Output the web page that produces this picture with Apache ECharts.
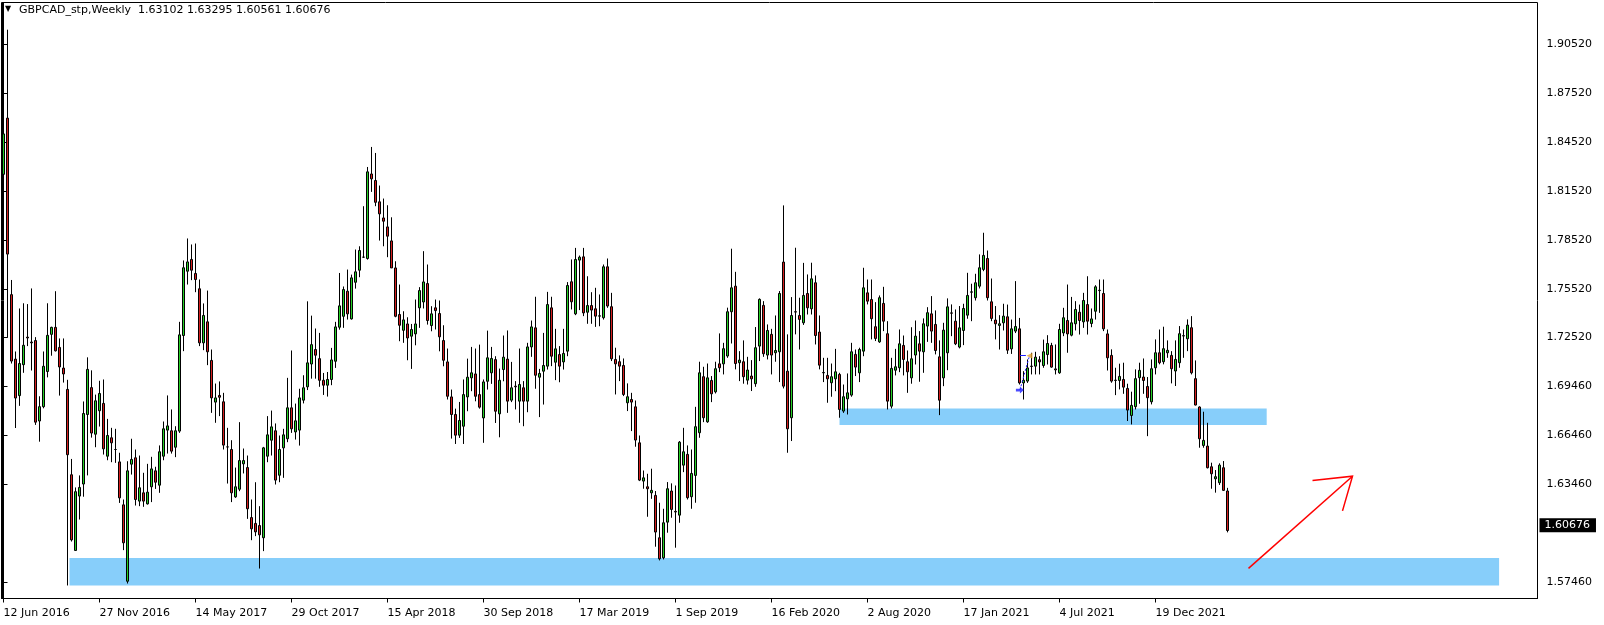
<!DOCTYPE html>
<html><head><meta charset="utf-8">
<script src="https://cdn.jsdelivr.net/npm/echarts@6/dist/echarts.min.js"></script>
<style>html,body{margin:0;padding:0;background:#fff}#c{width:1604px;height:625px}</style>
</head><body><div id="c"></div><script>
const HEADER = 'GBPCAD_stp,Weekly  1.63102 1.63295 1.60561 1.60676';
const FIRST_WEEK = '2016-06-12';
const OPEN = [1.8255,1.8600,1.7516,1.7120,1.6896,1.7086,1.7255,1.7225,1.7234,1.6740,1.6828,1.7044,1.7272,1.7315,1.7192,1.7065,1.6934,1.6410,1.5945,1.6279,1.6353,1.6780,1.6945,1.6659,1.6803,
1.6848,1.6524,1.6637,1.6565,1.6489,1.6225,1.5756,1.6475,1.6514,1.6248,1.6299,1.6231,1.6336,1.6434,1.6346,1.6524,1.6684,1.6680,1.6579,1.6678,1.7265,1.7660,1.7732,1.7646,1.7552,
1.7220,1.7349,1.7112,1.6856,1.6897,1.6858,1.6581,1.6565,1.6274,1.6321,1.6477,1.6454,1.6147,1.6111,1.6098,1.6023,1.6524,1.6622,1.6680,1.6407,1.6575,1.6631,1.6821,1.6673,1.6684,
1.6868,1.6950,1.7090,1.7179,1.7123,1.6990,1.6960,1.6995,1.7107,1.7316,1.7383,1.7537,1.7367,1.7592,1.7666,1.7746,1.7738,1.8257,1.8217,1.8086,1.7987,1.7932,1.7846,1.7680,1.7394,
1.7297,1.7336,1.7261,1.7275,1.7435,1.7471,1.7584,1.7326,1.7435,1.7400,1.7234,1.7103,1.6888,1.6780,1.6653,1.6708,1.6888,1.7005,1.7029,1.6902,1.6759,1.6984,1.7036,1.7117,1.6784,
1.7056,1.7120,1.6868,1.6954,1.6862,1.6944,1.6862,1.7195,1.7312,1.7009,1.7046,1.7077,1.7435,1.7101,1.7148,1.7103,1.7169,1.7595,1.7398,1.7728,1.7748,1.7408,1.7449,1.7429,1.7384,
1.7374,1.7687,1.7442,1.7118,1.7104,1.7081,1.6852,1.6872,1.6827,1.6606,1.6371,1.6336,1.6299,1.6283,1.6023,1.5900,1.6119,1.6310,1.6185,1.6162,1.6469,1.6535,1.6275,1.6406,1.6668,
1.7012,1.6735,1.6989,1.6919,1.7091,1.7091,1.7139,1.7411,1.7568,1.7098,1.7104,1.6991,1.7016,1.6969,1.7200,1.7450,1.7145,1.7272,1.7159,1.7165,1.7716,1.7046,1.6760,1.7411,1.7388,
1.7343,1.7523,1.7429,1.7589,1.7286,1.7036,1.7020,1.6975,1.6999,1.7026,1.6801,1.6876,1.6899,1.7149,1.7036,1.7169,1.7527,1.7486,1.7319,1.7226,1.7462,1.7276,1.6831,1.7052,1.7067,
1.7204,1.7104,1.7005,1.7145,1.7214,1.7165,1.7323,1.7398,1.7333,1.7134,1.7005,1.7159,1.7404,1.7353,1.7194,1.7296,1.7390,1.7531,1.7497,1.7568,1.7671,1.7738,1.7472,1.7360,1.7327,
1.7343,1.7380,1.7183,1.7292,1.7306,1.6974,1.6985,1.7077,1.7077,1.7116,1.7081,1.7148,1.7204,1.7060,1.7036,1.7281,1.7357,1.7267,1.7337,1.7408,1.7349,1.7455,1.7339,1.7414,1.7541,
1.7523,1.7275,1.7143,1.6989,1.6989,1.6995,1.6940,1.6774,1.6828,1.7006,1.7010,1.6952,1.6858,1.7067,1.7159,1.7104,1.7159,1.7143,1.7047,1.7098,1.7262,1.7245,1.7313,1.7000,1.6826,
1.6590,1.6586,1.6459,1.6385,1.6361,1.6453,1.63102];
const HIGH = [1.8530,1.9143,1.7606,1.7167,1.7431,1.7463,1.7458,1.7554,1.7255,1.6892,1.7167,1.7463,1.7319,1.7537,1.7247,1.7247,1.6993,1.6507,1.6332,1.6406,1.6860,1.7131,1.7051,1.6902,1.6987,
1.6995,1.6753,1.6698,1.6692,1.6545,1.6258,1.6493,1.6631,1.6565,1.6528,1.6422,1.6477,1.6520,1.6459,1.6590,1.6737,1.6897,1.6811,1.6708,1.7349,1.7726,1.7861,1.7824,1.7830,1.7609,
1.7462,1.7541,1.7179,1.6970,1.6983,1.6913,1.6698,1.6622,1.6454,1.6733,1.6571,1.6528,1.6258,1.6364,1.6217,1.6581,1.6770,1.6804,1.6725,1.6651,1.6692,1.7005,1.7173,1.6847,1.6938,
1.7021,1.7475,1.7387,1.7308,1.7281,1.7035,1.7041,1.7189,1.7349,1.7649,1.7566,1.7670,1.7639,1.7793,1.7813,1.8059,1.8300,1.8423,1.8386,1.8186,1.8106,1.8065,1.7991,1.7721,1.7578,
1.7414,1.7377,1.7336,1.7486,1.7562,1.7783,1.7701,1.7445,1.7486,1.7480,1.7328,1.7185,1.6933,1.6816,1.6857,1.6995,1.7123,1.7195,1.7185,1.7209,1.6995,1.7295,1.7195,1.7138,1.7062,
1.7265,1.7296,1.7103,1.6985,1.7185,1.6985,1.7220,1.7357,1.7503,1.7060,1.7281,1.7533,1.7503,1.7306,1.7200,1.7306,1.7593,1.7732,1.7803,1.7756,1.7803,1.7629,1.7531,1.7558,1.7517,
1.7701,1.7738,1.7527,1.7190,1.7143,1.7124,1.6971,1.6913,1.6866,1.6651,1.6436,1.6416,1.6447,1.6310,1.6238,1.6201,1.6365,1.6357,1.6344,1.6617,1.6698,1.6590,1.6565,1.6827,1.7104,
1.7073,1.7093,1.7016,1.7104,1.7278,1.7220,1.7436,1.7798,1.7656,1.7169,1.7235,1.7134,1.7114,1.7317,1.7493,1.7476,1.7333,1.7306,1.7388,1.7538,1.8064,1.7272,1.7501,1.7804,1.7497,
1.7711,1.7640,1.7712,1.7634,1.7388,1.7128,1.7128,1.7093,1.7183,1.7036,1.6964,1.7032,1.7220,1.7179,1.7190,1.7681,1.7609,1.7609,1.7470,1.7511,1.7564,1.7353,1.7128,1.7183,1.7302,
1.7265,1.7173,1.7316,1.7357,1.7292,1.7370,1.7439,1.7507,1.7419,1.7235,1.7343,1.7493,1.7456,1.7425,1.7446,1.7460,1.7650,1.7583,1.7644,1.7763,1.7896,1.7787,1.7615,1.7446,1.7390,
1.7460,1.7455,1.7363,1.7599,1.7373,1.7046,1.7118,1.7159,1.7165,1.7138,1.7240,1.7267,1.7220,1.7210,1.7337,1.7435,1.7578,1.7502,1.7476,1.7455,1.7527,1.7629,1.7431,1.7574,1.7609,
1.7609,1.7302,1.7180,1.7067,1.7092,1.7098,1.6969,1.6920,1.7057,1.7098,1.7124,1.7010,1.7118,1.7241,1.7302,1.7319,1.7235,1.7169,1.7235,1.7323,1.7302,1.7364,1.7384,1.7112,1.6830,
1.6797,1.6729,1.6484,1.6439,1.6480,1.6494,1.63295];
const LOW = [1.8033,1.7251,1.7093,1.6697,1.6833,1.7036,1.7200,1.7050,1.6716,1.6613,1.6818,1.7008,1.7141,1.7167,1.6896,1.6976,1.5730,1.6000,1.5945,1.6135,1.6275,1.6406,1.6638,1.6579,1.6706,
1.6534,1.6499,1.6487,1.6483,1.6237,1.5947,1.5742,1.6411,1.6221,1.6217,1.6213,1.6227,1.6242,1.6323,1.6299,1.6499,1.6540,1.6540,1.6518,1.6667,1.7169,1.7578,1.7605,1.7531,1.7200,
1.7175,1.7083,1.6790,1.6729,1.6770,1.6565,1.6356,1.6242,1.6268,1.6309,1.6418,1.6139,1.6008,1.6033,1.5834,1.5941,1.6487,1.6528,1.6350,1.6364,1.6391,1.6610,1.6667,1.6626,1.6589,
1.6848,1.6930,1.7000,1.7000,1.6950,1.6900,1.6890,1.6960,1.7066,1.7301,1.7312,1.7363,1.7363,1.7553,1.7623,1.7742,1.7731,1.8147,1.8059,1.7848,1.7813,1.7746,1.7680,1.7377,1.7230,
1.7220,1.7113,1.7060,1.7205,1.7312,1.7431,1.7332,1.7291,1.7302,1.7168,1.7076,1.6872,1.6632,1.6599,1.6636,1.6599,1.6800,1.6923,1.6861,1.6816,1.6606,1.6933,1.6968,1.6728,1.6640,
1.6984,1.6790,1.6856,1.6811,1.6729,1.6708,1.6794,1.7134,1.6938,1.6764,1.6841,1.7056,1.7077,1.6991,1.6978,1.7056,1.7138,1.7425,1.7390,1.7421,1.7384,1.7337,1.7337,1.7318,1.7322,
1.7363,1.7435,1.7108,1.6903,1.6985,1.6893,1.6801,1.6678,1.6582,1.6371,1.6324,1.6152,1.6262,1.5968,1.5884,1.5890,1.6054,1.6146,1.5962,1.6115,1.6426,1.6258,1.6201,1.6238,1.6637,
1.6733,1.6729,1.6856,1.6909,1.7040,1.7026,1.7128,1.7216,1.7057,1.6985,1.6969,1.6964,1.6924,1.6950,1.7108,1.7134,1.7118,1.7026,1.7104,1.6979,1.6940,1.6545,1.6617,1.7272,1.7179,
1.7330,1.7394,1.7394,1.7210,1.7057,1.6979,1.6852,1.6889,1.6923,1.6760,1.6790,1.6780,1.6889,1.7016,1.6979,1.7138,1.7456,1.7241,1.7231,1.7220,1.7292,1.6811,1.6817,1.7020,1.7040,
1.7020,1.6913,1.6969,1.7087,1.6981,1.7036,1.7226,1.7220,1.7149,1.6776,1.6954,1.7052,1.7261,1.7206,1.7186,1.7206,1.7368,1.7353,1.7480,1.7554,1.7660,1.7480,1.7353,1.7241,1.7179,
1.7296,1.7152,1.7152,1.7280,1.6964,1.6872,1.6974,1.7026,1.7026,1.7026,1.7067,1.7087,1.7067,1.7026,1.7030,1.7261,1.7159,1.7260,1.7296,1.7271,1.7312,1.7271,1.7316,1.7363,1.7404,
1.7292,1.7050,1.6975,1.6899,1.6934,1.6907,1.6740,1.6719,1.6811,1.6846,1.6907,1.6647,1.6842,1.7026,1.7088,1.7088,1.7128,1.6971,1.6955,1.7067,1.7128,1.7169,1.7026,1.6836,1.6576,
1.6576,1.6449,1.6324,1.6300,1.6347,1.6310,1.60561];
const CLOSE = [1.8503,1.7765,1.7108,1.6881,1.7093,1.7205,1.7250,1.7220,1.6733,1.6828,1.7076,1.7266,1.7315,1.7171,1.7072,1.7029,1.6533,1.6010,1.6306,1.6332,1.6786,1.7057,1.6666,1.6864,1.6909,
1.6569,1.6651,1.6606,1.6565,1.6268,1.5992,1.6434,1.6504,1.6258,1.6330,1.6248,1.6303,1.6446,1.6364,1.6551,1.6692,1.6710,1.6555,1.6680,1.7269,1.7681,1.7717,1.7666,1.7609,1.7220,
1.7388,1.7165,1.6882,1.6882,1.6886,1.6592,1.6581,1.6299,1.6336,1.6497,1.6497,1.6201,1.6078,1.6059,1.6041,1.6575,1.6655,1.6704,1.6377,1.6565,1.6655,1.6821,1.6692,1.6741,1.6882,
1.6944,1.7097,1.7209,1.7144,1.6990,1.6960,1.6995,1.7115,1.7318,1.7447,1.7547,1.7398,1.7619,1.7656,1.7787,1.7746,1.8270,1.8227,1.8083,1.8012,1.7967,1.7875,1.7680,1.7383,1.7328,
1.7361,1.7250,1.7302,1.7336,1.7541,1.7594,1.7357,1.7398,1.7418,1.7257,1.7113,1.6892,1.6780,1.6653,1.6743,1.6902,1.7009,1.7036,1.6892,1.6825,1.6980,1.7128,1.7124,1.6800,1.6990,
1.7132,1.6862,1.6944,1.6950,1.6964,1.6862,1.7195,1.7318,1.7021,1.7032,1.7081,1.7455,1.7138,1.7183,1.7077,1.7155,1.7572,1.7472,1.7732,1.7746,1.7404,1.7449,1.7421,1.7384,1.7386,
1.7687,1.7446,1.7122,1.7091,1.7077,1.6903,1.6889,1.6856,1.6623,1.6377,1.6391,1.6324,1.6314,1.6058,1.5894,1.6115,1.6324,1.6197,1.6181,1.6610,1.6551,1.6269,1.6418,1.6705,1.7036,
1.6760,1.7005,1.6907,1.7061,1.7067,1.7184,1.7411,1.7558,1.7093,1.7114,1.7012,1.7053,1.6999,1.7190,1.7487,1.7153,1.7296,1.7145,1.7173,1.7523,1.6954,1.6692,1.7388,1.7409,1.7364,
1.7511,1.7435,1.7613,1.7265,1.7083,1.7038,1.6999,1.7012,1.7042,1.6811,1.6889,1.6913,1.7165,1.7071,1.7179,1.7558,1.7476,1.7368,1.7247,1.7497,1.7353,1.6862,1.7063,1.7073,1.7214,
1.7118,1.7042,1.7122,1.7261,1.7169,1.7337,1.7405,1.7292,1.7173,1.6868,1.7298,1.7441,1.7402,1.7214,1.7312,1.7431,1.7511,1.7533,1.7589,1.7681,1.7757,1.7497,1.7370,1.7337,1.7337,
1.7384,1.7175,1.7306,1.7320,1.6974,1.6990,1.7066,1.7075,1.7132,1.7103,1.7165,1.7216,1.7071,1.7054,1.7302,1.7374,1.7275,1.7343,1.7425,1.7357,1.7480,1.7353,1.7367,1.7564,1.7543,
1.7306,1.7128,1.6985,1.6991,1.7014,1.6948,1.6807,1.6836,1.7000,1.7051,1.6989,1.6883,1.7061,1.7159,1.7098,1.7184,1.7174,1.7061,1.7118,1.7276,1.7264,1.7329,1.7036,1.6838,1.6631,
1.6621,1.6453,1.6416,1.6398,1.6469,1.6314,1.60676];
const PRICE_TICKS = [1.9052,1.8752,1.8452,1.8152,1.7852,1.7552,1.7252,1.6952,1.6652,1.6352,1.5752];
const PRICE_LABELS = ['1.90520','1.87520','1.84520','1.81520','1.78520','1.75520','1.72520','1.69460','1.66460','1.63460','1.57460'];
const LAST_PRICE = 1.60676;
// zones: [startBar, endBar, topPrice, bottomPrice]
const ZONE_UPPER = [209, 315.8, 1.6817, 1.6715];
const ZONE_LOWER = [16.5, 373.9, 1.5899, 1.5730];
// arrow: start, tip, wing1, wing2 as [bar, price]
const ARROW_LINE = [[311.25, 1.5835], [337.25, 1.6401]];
const ARROW_HEAD = [[327.25, 1.6375], [337.25, 1.6401], [334.75, 1.6188]];
// trade history marks: [bar, price]
const TRADE_OPEN = [254.1, 1.6930];
const TRADE_CLOSE = [256.5, 1.7141];
const TRADE_LEVEL = [[254.1, 1.7141], [255.6, 1.7141]];
const SEPARATOR_BAR = -0.25;

const N_BARS = CLOSE.length;
const N_SLOTS = 384;
const MON = ['Jan','Feb','Mar','Apr','May','Jun','Jul','Aug','Sep','Oct','Nov','Dec'];
const start = new Date(FIRST_WEEK + 'T00:00:00Z');
const categories = [];
for (let i = 0; i < N_SLOTS; i++) {
  const d = new Date(start.getTime() + i * 7 * 86400000);
  categories.push(d.getUTCDate() + ' ' + MON[d.getUTCMonth()] + ' ' + d.getUTCFullYear());
}
const candles = [];
for (let i = 0; i < N_BARS; i++) candles.push([OPEN[i], CLOSE[i], LOW[i], HIGH[i]]);

const FONT = 'DejaVu Sans';
const chart = echarts.init(document.getElementById('c'), null, {renderer: 'canvas'});
const labelIdx = i => i % 24 === 0 && i < N_BARS;
chart.setOption({
  animation: false,
  backgroundColor: '#ffffff',
  grid: {left: 1.5, top: 2.5, width: N_SLOTS * 4, height: 596, show: true, borderColor: '#000', borderWidth: 1, backgroundColor: 'transparent'},
  xAxis: [{
    type: 'category', data: categories, boundaryGap: true,
    axisLine: {show: true, lineStyle: {color: '#000', width: 1}},
    axisTick: {show: true, interval: labelIdx, length: 4, lineStyle: {color: '#000'}, alignWithLabel: true},
    axisLabel: {interval: labelIdx, align: 'left', margin: 9, color: '#000', fontSize: 11, fontFamily: FONT},
    splitLine: {show: false}
  }, {
    type: 'value', min: -0.5, max: N_SLOTS - 0.5, show: false
  }],
  yAxis: {
    type: 'value', position: 'right', min: 1.5650, max: 1.9310, scale: true,
    axisLine: {show: true, lineStyle: {color: '#000', width: 1}},
    axisTick: {show: true, customValues: PRICE_TICKS, length: 4, inside: false, lineStyle: {color: '#000'}},
    axisLabel: {customValues: PRICE_TICKS, color: '#000', fontSize: 11, fontFamily: FONT, margin: 9,
      formatter: v => { let best = 0; for (let k = 1; k < PRICE_TICKS.length; k++) if (Math.abs(PRICE_TICKS[k]-v) < Math.abs(PRICE_TICKS[best]-v)) best = k; return PRICE_LABELS[best]; }},
    splitLine: {show: false}
  },
  series: [{
    type: 'line', xAxisIndex: 1, data: [], z: 1, silent: true,
    markArea: {silent: true, itemStyle: {color: '#87cefa', opacity: 1}, data: [
      [{coord: [ZONE_UPPER[0], ZONE_UPPER[2]]}, {coord: [ZONE_UPPER[1], ZONE_UPPER[3]]}],
      [{coord: [ZONE_LOWER[0], ZONE_LOWER[2]]}, {coord: [ZONE_LOWER[1], ZONE_LOWER[3]]}]
    ]},
    markLine: {silent: true, symbol: 'none', label: {show: false}, lineStyle: {color: '#000', width: 1, type: 'solid'},
      data: [{xAxis: SEPARATOR_BAR}]}
  }, {
    type: 'candlestick', data: candles, barWidth: 2, z: 3, clip: false,
    itemStyle: {color: '#26d026', color0: '#d41e1e', borderColor: '#000', borderColor0: '#000', borderWidth: 1},
    markLine: {silent: true, symbol: 'none', data: [{yAxis: LAST_PRICE}], lineStyle: {color: 'rgba(0,0,0,0)', width: 0},
      label: {show: true, position: 'end', distance: 2, formatter: '1.60676', backgroundColor: '#000', color: '#fff', fontSize: 11, fontFamily: FONT, padding: [2, 6, 1, 5]}}
  }, {
    type: 'lines', xAxisIndex: 1, coordinateSystem: 'cartesian2d', polyline: true, z: 4, silent: true,
    lineStyle: {color: '#ff0000', width: 1.5, opacity: 1},
    data: [{coords: ARROW_LINE}, {coords: ARROW_HEAD}]
  }, {
    type: 'lines', xAxisIndex: 1, coordinateSystem: 'cartesian2d', z: 5, silent: true,
    data: [
      {coords: [TRADE_OPEN, TRADE_CLOSE], lineStyle: {color: '#1e1eff', width: 1, type: [2, 2], opacity: 1}},
      {coords: TRADE_LEVEL, lineStyle: {color: '#1e1eff', width: 1, type: 'solid', opacity: 1}}
    ]
  }, {
    type: 'scatter', xAxisIndex: 1, z: 6, silent: true,
    data: [
      {value: TRADE_OPEN, symbol: 'path://M0,3 L5,3 L5,0 L10,5 L5,10 L5,7 L0,7 Z', symbolSize: [8, 7], itemStyle: {color: '#1e1eff'}},
      {value: TRADE_CLOSE, symbol: 'triangle', symbolRotate: 90, symbolSize: 6, itemStyle: {color: '#e0a030'}}
    ]
  }],
  graphic: [
    {type: 'text', left: 5, top: 5, style: {text: '▼', fontSize: 8, fill: '#000', fontFamily: FONT}},
    {type: 'text', left: 19, top: 5, style: {text: HEADER, fontSize: 11, fill: '#000', fontFamily: FONT}}
  ]
});
</script></body></html>
